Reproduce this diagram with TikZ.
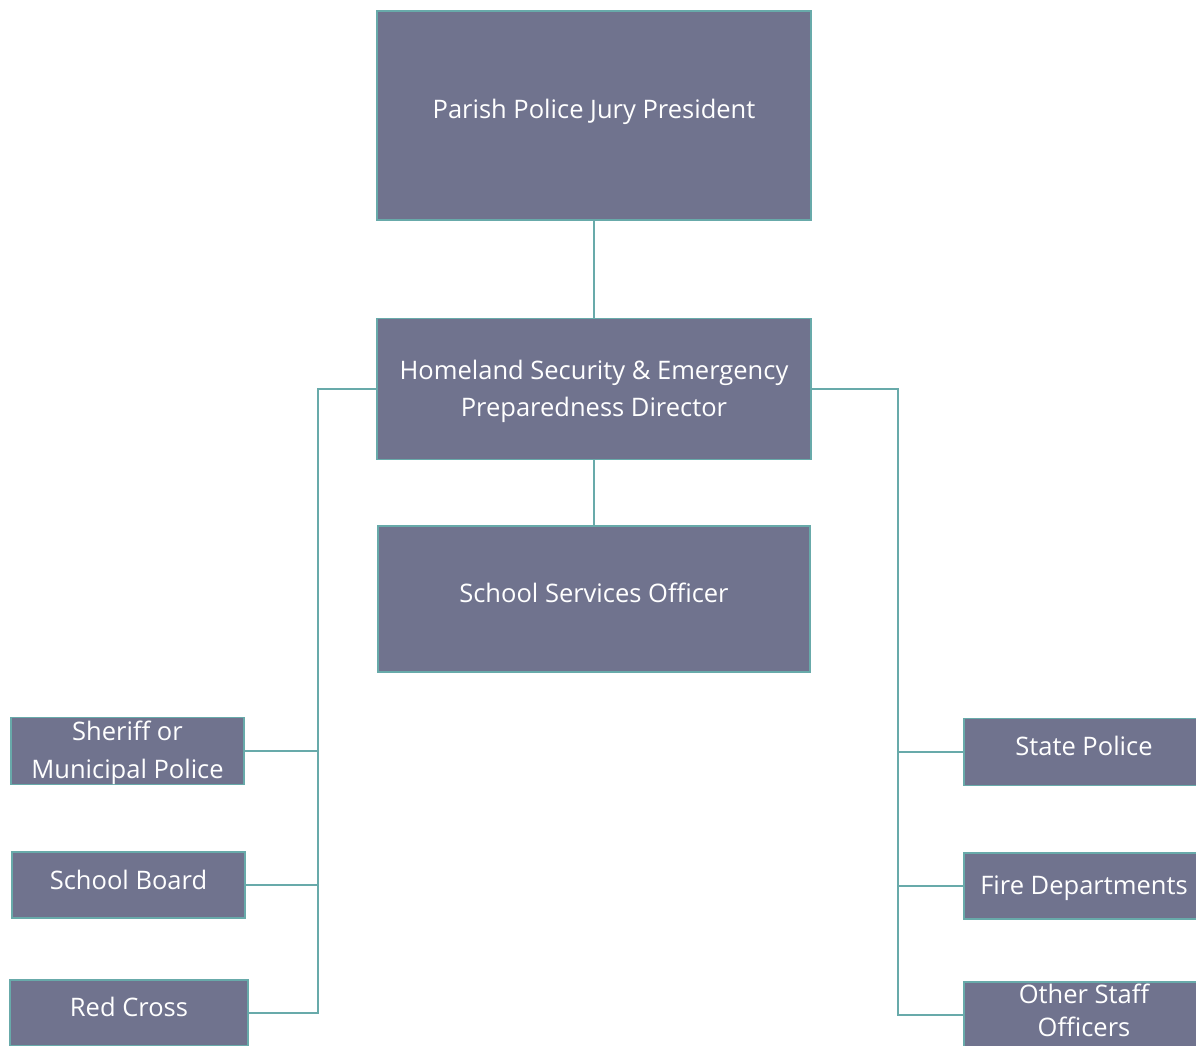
\documentclass[tikz,border=0pt]{standalone}
\usepackage{fontspec}
\setmainfont{Open Sans}
\definecolor{boxfill}{RGB}{112,115,142}
\definecolor{edge}{RGB}{104,170,170}
\begin{document}
\begin{tikzpicture}[x=1pt,y=-1pt,
  unit/.style={draw=edge,fill=boxfill,line width=1.6pt,text=white,
    align=center,inner sep=0pt,font=\fontsize{25.5}{37.5}\selectfont},
  % baseline placement: text height / depth fix where the last baseline sits
  lift/.style 2 args={text height=#1pt,text depth=#2pt},
  link/.style={draw=edge,line width=2pt}]
\clip (0,0) rectangle (1196,1045);
\fill[white] (0,0) rectangle (1196,1045);
% chain of command
\node[unit,lift={16}{10},minimum width=434,minimum height=209] (ppj) at (594,115.5) {Parish Police Jury President};
\node[unit,lift={59}{4},minimum width=434,minimum height=141] (hsd) at (594,389) {Homeland Security \& Emergency\\Preparedness Director};
\node[unit,lift={16}{10},minimum width=432,minimum height=146] (sso) at (594,599) {School Services Officer};
% left branch
\node[unit,lift={56}{2},minimum width=233,minimum height=67] (shf) at (127.5,751) {Sheriff or\\Municipal Police};
\node[unit,lift={18}{10},minimum width=233,minimum height=66] (sbd) at (128.5,885) {School Board};
\node[unit,lift={17}{10},minimum width=238,minimum height=66] (rcr) at (129,1013) {Red Cross};
% right branch
\node[unit,lift={17}{10},minimum width=240,minimum height=67] (stp) at (1084,752) {State Police};
\node[unit,lift={27}{10},minimum width=240,minimum height=66] (fdp) at (1084,886) {Fire Departments};
\node[unit,lift={45}{2},minimum width=240,minimum height=66,
      font=\fontsize{25.5}{33.5}\selectfont] (oso) at (1084,1015) {Other Staff\\Officers};
% connectors
\draw[link] (ppj.south) -- (hsd.north);
\draw[link] (hsd.south) -- (sso.north);
\coordinate (lbus) at (318,389);
\coordinate (rbus) at (898,389);
\draw[link] (hsd.west) -- (lbus) |- (rcr.east);
\draw[link] (lbus |- shf.east) -- (shf.east);
\draw[link] (lbus |- sbd.east) -- (sbd.east);
\draw[link] (hsd.east) -- (rbus) |- (oso.west);
\draw[link] (rbus |- stp.west) -- (stp.west);
\draw[link] (rbus |- fdp.west) -- (fdp.west);
\end{tikzpicture}
\end{document}
